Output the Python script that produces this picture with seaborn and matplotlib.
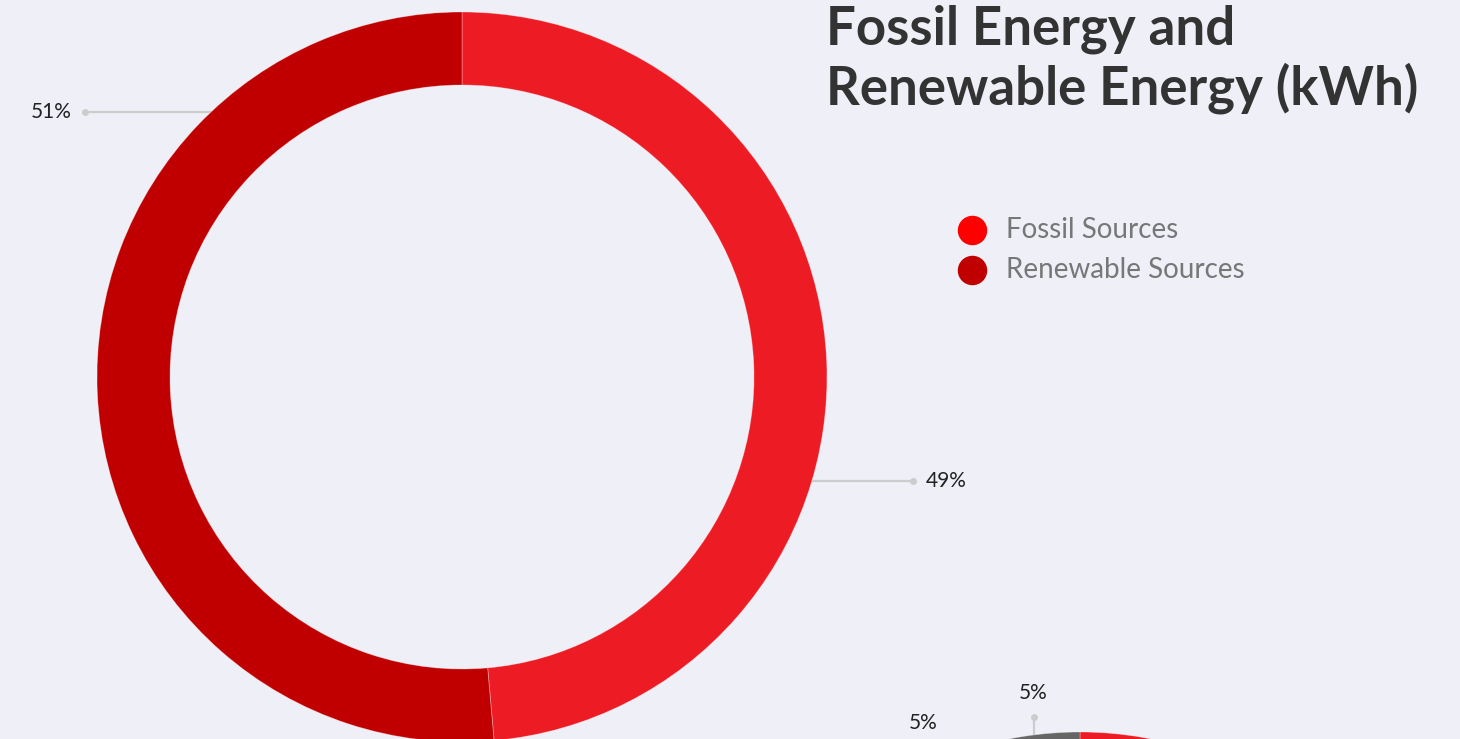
import numpy as np
import matplotlib
matplotlib.use("Agg")
import matplotlib.pyplot as plt
import seaborn as sns

# ---------------- data ----------------
main_labels = ["Fossil Sources", "Renewable Sources"]
main_values = [48.6, 51.4]          # shares (%), shown rounded
main_colors = ["#ED1C24", "#C00000"]
legend_colors = ["#FF0000", "#C00000"]

# second (mostly hidden) donut: red slice first, two 5% slices last
second_values = [45, 25, 20, 5, 5]
second_colors = ["#ED1C24", "#C00000", "#8B0000", "#999999", "#666666"]

title = "Fossil Energy and\nRenewable Energy (kWh)"

# ---------------- style ----------------
BG = "#EEEFF7"
sns.set_theme(style="dark", rc={"axes.facecolor": BG, "figure.facecolor": BG})
plt.rcParams["font.family"] = ["Lato", "DejaVu Sans"]

W, H = 1460, 739
fig = plt.figure(figsize=(W / 100, H / 100), dpi=100)
ax = fig.add_axes([0, 0, 1, 1])

def py(y):  # pixel-y (from top) -> data y
    return H - y

R, RING = 365, 73
c1 = (462, py(377))
c2 = (1080, py(1097))

wp = dict(width=RING, edgecolor=(1, 1, 1, 0.35), linewidth=0.6)
ax.pie(main_values, colors=main_colors, startangle=90, counterclock=False,
       center=c1, radius=R, wedgeprops=wp)
ax.pie(second_values, colors=second_colors, startangle=90, counterclock=False,
       center=c2, radius=R, wedgeprops=wp)

LEAD = "#CCCCCC"
PCT = "#222222"
PFS = 15

# main donut labels (horizontal leaders)
pct = [f"{round(v)}%" for v in main_values]
lab_y = [481, 112]          # pixel rows of the leaders (layout)
lab_end = [913, 85]         # outer end of leaders (layout)
for i, (yy, xe) in enumerate(zip(lab_y, lab_end)):
    dy = c1[1] - py(yy)
    dx = np.sqrt(R ** 2 - dy ** 2)
    side = 1 if i == 0 else -1
    x0 = c1[0] + side * (dx - 10)
    ax.plot([x0, xe], [py(yy), py(yy)], color=LEAD, lw=1.6, zorder=0,
            solid_capstyle="butt")
    ax.plot([xe], [py(yy)], "o", color=LEAD, ms=4, zorder=0)
    ax.text(xe + side * 13, py(yy), pct[i], ha="left" if side > 0 else "right",
            va="center", fontsize=PFS, color=PCT)

# second donut labels for the two visible 5% slices
lead_x = 1034                # layout: leader column for the top label
ya = c2[1] + np.sqrt(R ** 2 - (lead_x - c2[0]) ** 2)
ax.plot([lead_x, lead_x], [ya - 2, py(717)], color=LEAD, lw=1.6, zorder=0)
ax.plot([lead_x], [py(717)], "o", color=LEAD, ms=4, zorder=0)
ax.text(lead_x - 1, py(693), f"{second_values[-1]}%", ha="center", va="center",
        fontsize=PFS, color=PCT)
ax.text(923, py(723), f"{second_values[-2]}%", ha="center", va="center",
        fontsize=PFS, color=PCT)

# title
ax.text(826, py(4), title, ha="left", va="top", fontsize=38,
        fontweight="bold", color="#333333", linespacing=1.2)

# legend
for i, (lab, col) in enumerate(zip(main_labels, legend_colors)):
    yy = py(230 + 40 * i)
    ax.scatter([972], [yy], s=450, color=col, zorder=3, linewidths=0)
    ax.text(1006, yy, lab, ha="left", va="center", fontsize=20, color="#777777")

ax.set_xlim(0, W)
ax.set_ylim(0, H)
ax.set_aspect("auto")
ax.axis("off")

fig.savefig("out.png", dpi=100, facecolor=BG)
